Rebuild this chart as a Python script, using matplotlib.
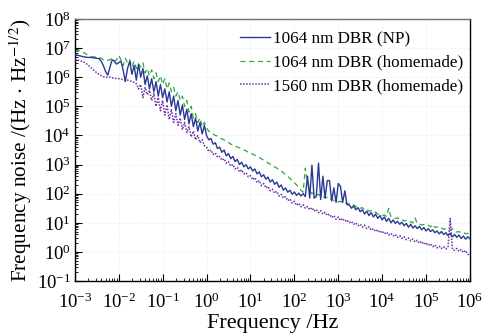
import numpy as np
import matplotlib
matplotlib.use("Agg")
import matplotlib.pyplot as plt
from matplotlib.ticker import LogLocator, NullFormatter

# log10 of frequency (Hz), shared sample grid
log_freq = [
    -3.00, -2.95, -2.90, -2.85, -2.80, -2.75, -2.70, -2.65, -2.60, -2.55, -2.50, -2.45, -2.40, -2.35, -2.30, -2.25, -2.20, -2.15, -2.10, -2.05,
    -2.00, -1.95, -1.90, -1.85, -1.80, -1.75, -1.70, -1.65, -1.60, -1.55, -1.50, -1.45, -1.40, -1.35, -1.30, -1.25, -1.20, -1.15, -1.10, -1.05,
    -1.00, -0.95, -0.90, -0.85, -0.80, -0.75, -0.70, -0.65, -0.60, -0.55, -0.50, -0.45, -0.40, -0.35, -0.30, -0.25, -0.20, -0.15, -0.10, -0.05,
    0.00, 0.05, 0.10, 0.15, 0.20, 0.25, 0.30, 0.35, 0.40, 0.45, 0.50, 0.55, 0.60, 0.65, 0.70, 0.75, 0.80, 0.85, 0.90, 0.95,
    1.00, 1.05, 1.10, 1.15, 1.20, 1.25, 1.30, 1.35, 1.40, 1.45, 1.50, 1.55, 1.60, 1.65, 1.70, 1.75, 1.80, 1.85, 1.90, 1.95,
    2.00, 2.05, 2.10, 2.15, 2.20, 2.25, 2.30, 2.35, 2.40, 2.45, 2.50, 2.55, 2.60, 2.65, 2.70, 2.75, 2.80, 2.85, 2.90, 2.95,
    3.00, 3.05, 3.10, 3.15, 3.20, 3.25, 3.30, 3.35, 3.40, 3.45, 3.50, 3.55, 3.60, 3.65, 3.70, 3.75, 3.80, 3.85, 3.90, 3.95,
    4.00, 4.05, 4.10, 4.15, 4.20, 4.25, 4.30, 4.35, 4.40, 4.45, 4.50, 4.55, 4.60, 4.65, 4.70, 4.75, 4.80, 4.85, 4.90, 4.95,
    5.00, 5.05, 5.10, 5.15, 5.20, 5.25, 5.30, 5.35, 5.40, 5.45, 5.50, 5.55, 5.60, 5.65, 5.70, 5.75, 5.80, 5.85, 5.90, 5.95,
    6.00,
]

# log10 of frequency noise (Hz/Hz^1/2)
log_noise_1064_np = [
    6.78, 6.76, 6.74, 6.72, 6.70, 6.69, 6.68, 6.68, 6.67, 6.66, 6.65, 6.64, 6.55, 6.40, 6.20, 6.07, 6.35, 6.60, 6.55, 6.45,
    6.50, 6.55, 6.25, 5.85, 6.30, 6.55, 6.10, 6.40, 5.90, 6.45, 6.00, 6.30, 5.75, 6.05, 5.60, 5.95, 5.50, 5.85, 5.35, 5.75,
    5.30, 5.60, 5.15, 5.50, 5.00, 5.35, 4.85, 5.20, 4.70, 5.05, 4.55, 4.90, 4.40, 4.75, 4.30, 4.60, 4.15, 4.45, 4.05, 4.35,
    4.00, 3.85, 3.90, 3.70, 3.75, 3.55, 3.60, 3.42, 3.50, 3.30, 3.38, 3.20, 3.28, 3.10, 3.18, 3.00, 3.08, 2.92, 3.00, 2.85,
    2.92, 2.78, 2.85, 2.68, 2.75, 2.58, 2.65, 2.50, 2.57, 2.40, 2.48, 2.32, 2.40, 2.22, 2.30, 2.12, 2.20, 2.05, 2.12, 1.98,
    2.06, 1.94, 2.02, 1.92, 2.00, 1.90, 2.60, 1.85, 2.98, 1.85, 1.90, 3.05, 1.80, 2.60, 1.85, 2.45, 2.45, 1.75, 2.20, 1.70,
    2.35, 2.25, 1.70, 2.10, 1.62, 1.62, 1.50, 1.58, 1.45, 1.52, 1.38, 1.45, 1.30, 1.40, 1.25, 1.35, 1.20, 1.30, 1.15, 1.25,
    1.10, 1.20, 1.05, 1.15, 1.00, 1.10, 0.98, 1.05, 0.95, 1.02, 0.90, 0.98, 0.85, 0.95, 0.82, 0.90, 0.80, 0.88, 0.76, 0.84,
    0.72, 0.80, 0.70, 0.76, 0.66, 0.72, 0.62, 0.70, 0.60, 0.66, 0.56, 0.64, 0.52, 0.60, 0.50, 0.58, 0.46, 0.55, 0.44, 0.52,
    0.45,
]

log_noise_1064_home = [
    6.90, 6.90, 6.92, 6.88, 6.85, 6.80, 6.75, 6.72, 6.70, 6.70, 6.68, 6.68, 6.65, 6.60, 6.62, 6.58, 6.60, 6.65, 6.55, 6.60,
    6.75, 6.60, 6.40, 6.65, 6.50, 6.60, 6.35, 6.55, 6.30, 6.45, 6.35, 6.50, 6.15, 6.30, 6.05, 6.25, 5.95, 6.15, 5.85, 6.05,
    5.75, 5.95, 5.60, 5.80, 5.50, 5.65, 5.35, 5.50, 5.20, 5.35, 5.00, 5.20, 4.80, 5.00, 4.60, 4.75, 4.45, 4.60, 4.30, 4.45,
    4.25, 4.15, 4.12, 4.05, 4.00, 3.98, 3.92, 3.88, 3.85, 3.78, 3.76, 3.70, 3.68, 3.65, 3.60, 3.58, 3.55, 3.50, 3.47, 3.42,
    3.40, 3.36, 3.32, 3.30, 3.25, 3.20, 3.15, 3.12, 3.05, 3.02, 2.98, 2.92, 2.88, 2.82, 2.78, 2.72, 2.65, 2.60, 2.52, 2.45,
    2.38, 2.30, 2.22, 2.12, 2.05, 2.88, 2.40, 2.10, 2.00, 2.05, 1.95, 1.98, 1.90, 1.92, 1.85, 1.88, 1.80, 1.83, 1.76, 1.78,
    1.72, 1.74, 1.68, 1.70, 1.64, 1.66, 1.60, 1.62, 1.55, 1.57, 1.50, 1.52, 1.45, 1.47, 1.40, 1.42, 1.35, 1.37, 1.30, 1.30,
    1.25, 1.27, 1.22, 1.50, 1.20, 1.18, 1.15, 1.17, 1.10, 1.12, 1.06, 1.08, 1.02, 1.04, 1.00, 1.17, 0.97, 0.95, 0.93, 0.94,
    0.90, 0.92, 0.86, 0.95, 0.84, 0.86, 0.80, 0.82, 0.78, 0.80, 0.74, 0.76, 0.80, 0.72, 0.68, 0.70, 0.66, 0.68, 0.62, 0.64,
    0.60,
]

log_noise_1560_home = [
    6.62, 6.60, 6.57, 6.55, 6.52, 6.48, 6.42, 6.35, 6.28, 6.22, 6.15, 6.10, 6.05, 6.02, 6.00, 6.00, 6.00, 5.98, 5.97, 5.95,
    5.95, 5.93, 5.92, 5.90, 5.90, 5.88, 5.85, 5.82, 5.78, 5.60, 5.75, 5.30, 5.65, 5.40, 5.55, 5.20, 5.45, 5.00, 5.30, 4.85,
    5.20, 4.70, 5.05, 4.55, 4.90, 4.45, 4.75, 4.35, 4.60, 4.20, 4.45, 4.10, 4.30, 3.95, 4.15, 3.85, 4.00, 3.75, 3.85, 3.65,
    3.60, 3.45, 3.50, 3.35, 3.40, 3.25, 3.28, 3.15, 3.20, 3.05, 3.10, 2.95, 3.00, 2.85, 2.90, 2.75, 2.82, 2.68, 2.72, 2.58,
    2.62, 2.48, 2.55, 2.38, 2.45, 2.28, 2.35, 2.20, 2.25, 2.10, 2.15, 2.02, 2.08, 1.92, 1.98, 1.85, 1.90, 1.76, 1.82, 1.68,
    1.74, 1.60, 1.67, 1.55, 1.62, 1.50, 1.56, 1.45, 1.52, 1.40, 1.46, 1.35, 1.42, 1.30, 1.36, 1.25, 1.30, 1.18, 1.25, 1.12,
    1.20, 1.08, 1.15, 1.05, 1.10, 1.00, 1.05, 0.95, 1.00, 0.90, 0.95, 0.85, 0.92, 0.80, 0.86, 0.75, 0.80, 0.70, 0.76, 0.66,
    0.72, 0.62, 0.68, 0.58, 0.64, 0.55, 0.60, 0.50, 0.56, 0.46, 0.52, 0.42, 0.48, 0.38, 0.44, 0.34, 0.40, 0.30, 0.36, 0.26,
    0.32, 0.22, 0.28, 0.18, 0.24, 0.14, 0.20, 0.12, 0.18, 0.10, 0.16, 1.15, 0.08, 0.06, 0.12, 0.02, 0.08, -0.02, 0.05, -0.08,
    -0.10,
]

labels = ["1064 nm DBR (NP)", "1064 nm DBR (homemade)", "1560 nm DBR (homemade)"]
colors = ["#2b3896", "#2aa83c", "#6a2fa6"]

plt.rcParams["font.family"] = ["Liberation Serif", "DejaVu Serif"]
plt.rcParams["mathtext.fontset"] = "stix"

fig = plt.figure(figsize=(4.86, 3.33), dpi=100)
ax = fig.add_axes([0.154, 0.156, 0.813, 0.787])

freq = 10.0 ** np.array(log_freq)
l2, = ax.plot(freq, 10.0 ** np.array(log_noise_1064_home), color=colors[1], lw=0.9,
              linestyle=(0, (4, 3)), zorder=2)
l3, = ax.plot(freq, 10.0 ** np.array(log_noise_1560_home), color=colors[2], lw=1.1,
              linestyle=(0, (1, 1)), zorder=3)
l1, = ax.plot(freq, 10.0 ** np.array(log_noise_1064_np), color=colors[0], lw=1.0,
              linestyle="-", zorder=4)

ax.set_xscale("log")
ax.set_yscale("log")
ax.set_xlim(1e-3, 1e6)
ax.set_ylim(1e-1, 1e8)

for axis in (ax.xaxis, ax.yaxis):
    axis.set_major_locator(LogLocator(base=10, numticks=30))
    axis.set_minor_locator(LogLocator(base=10, subs=np.arange(2, 10), numticks=300))
    axis.set_minor_formatter(NullFormatter())

ax.tick_params(which="major", direction="in", length=5, width=0.8, labelsize=13.5,
               top=False, right=False)
ax.tick_params(which="minor", direction="in", length=2.5, width=0.6,
               top=False, right=False)
ax.tick_params(axis="x", pad=8)
ax.tick_params(axis="y", pad=3)

ax.grid(True, which="major", color="#e2eaf0", lw=0.6, linestyle=":")
for s in ax.spines.values():
    s.set_linewidth(1.0)
ax.spines["top"].set_color("#707070")

ax.set_xlabel("Frequency /Hz", fontsize=16, labelpad=2)
ax.set_ylabel(r"Frequency noise /(Hz$\,\cdot\,$Hz$^{-1/2}$)", fontsize=15.3, labelpad=2)

leg = ax.legend([l1, l2, l3], labels, loc="upper right", frameon=False,
                fontsize=12.3, handlelength=1.75, handletextpad=0.15,
                labelspacing=0.45, borderaxespad=0.0, bbox_to_anchor=(1.0, 0.98))

fig.savefig("out.png", dpi=100)
